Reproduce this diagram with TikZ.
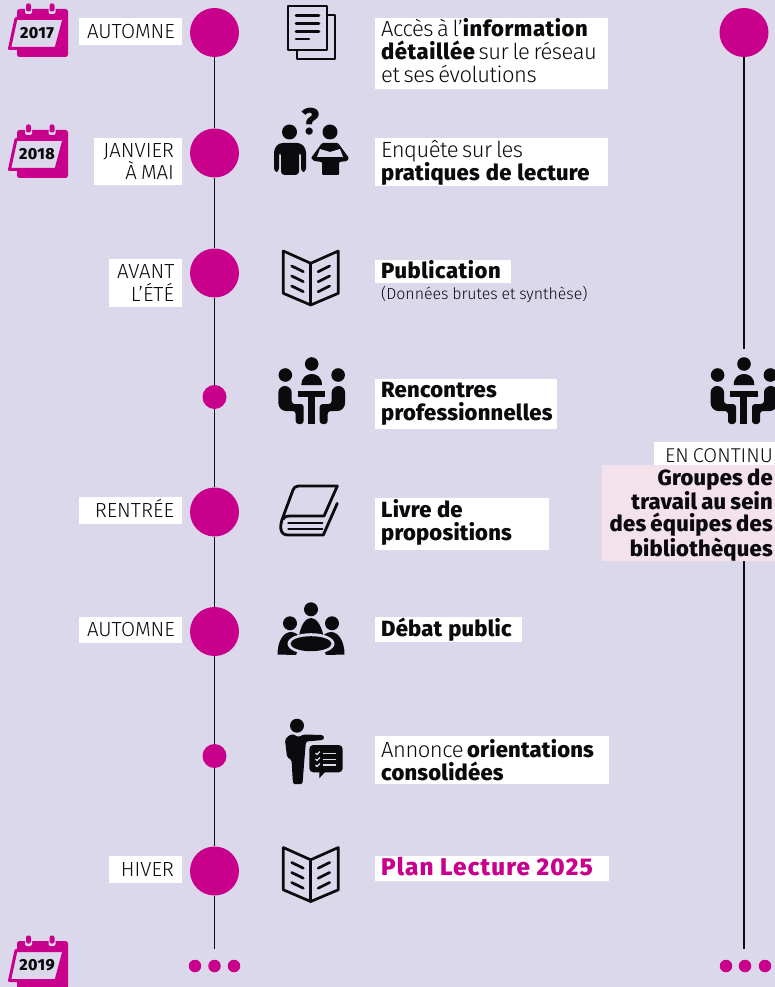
\documentclass[tikz,border=0pt]{standalone}
\usepackage{fontspec}
\setmainfont{Fira Sans Light}[LetterSpace=-2.2]
\newfontfamily\dt{Fira Sans Light}
\newfontfamily\hv{Fira Sans ExtraBold}[LetterSpace=1]
\newfontfamily\hvw{Fira Sans ExtraBold}[LetterSpace=2.5]
\newfontfamily\hvx{Fira Sans ExtraBold}[LetterSpace=5]
\definecolor{bgc}{HTML}{DBD8EC}
\definecolor{mag}{HTML}{C8008C}
\definecolor{ink}{HTML}{0B0B0D}
\definecolor{rosebox}{HTML}{F3E1EC}
\tikzset{
  tl/.style={draw=ink,line width=1.5pt},
  bigdot/.style={circle,fill=mag,minimum size=49pt,inner sep=0pt},
  smalldot/.style={circle,fill=mag,minimum size=24pt,inner sep=0pt},
  tinydot/.style={circle,fill=mag,minimum size=12.5pt,inner sep=0pt},
  gap/.style={execute at begin node={\spaceskip=#1pt\relax}},
  datebox/.style={fill=white,inner ysep=0pt,inner xsep=8pt,align=right,text=ink,font=\dt\fontsize{20.4}{22.5}\selectfont,gap=4},
  txtbox/.style={fill=white,inner ysep=0pt,inner xsep=6pt,align=left,text=ink,anchor=north west,font=\fontsize{22}{22.8}\selectfont,gap=3.6},
  ic/.style={line width=2.7pt,draw=ink,line join=round,line cap=round},
  pics/calendar/.style={code={
    \fill[mag,rounded corners=2.5pt] (17,9) rectangle (68,57);
    \fill[bgc,rounded corners=2pt] (25,3) rectangle (32,14);
    \fill[bgc,rounded corners=2pt] (48.5,3) rectangle (55.5,14);
    \fill[mag,rounded corners=2pt] (26,3.5) rectangle (31,11.5);
    \fill[mag,rounded corners=2pt] (49.5,3.5) rectangle (54.5,11.5);
    \draw[mag,line width=3pt,fill=bgc,line join=round] (16,18.5) -- (64,18.5) -- (56,48.5) -- (9.5,48.5) -- cycle;
    \draw[bgc,line width=.7pt] (9,51) -- (17,54);
    \node[inner sep=0pt,text=ink,font=\hvw\fontsize{16}{16}\selectfont] at (37,33.5) {#1};
  }},
  pics/openbook/.style={code={
    \draw[ic] (-27.4,-27) -- (0,-14.7) -- (27.6,-27) -- (27.6,15.3) -- (0,27) -- (-27.4,15.3) -- cycle;
    \draw[ic] (0,-14.7) -- (0,27);
    \foreach \yy in {-12,-2,8}{
      \draw[ic] (-19,\yy) -- (-7.4,\yy+5.7);
      \draw[ic] (7.4,\yy+5.7) -- (19,\yy);
    }
  }},
  pics/meeting/.style={code={
    \fill[ink] (0,0) circle (6.8);
    \fill[ink] (-26.4,11) circle (6.8);
    \fill[ink] (26.4,11) circle (6.8);
    \fill[ink] (-10.3,21) .. controls (-10.3,13) and (-5,10) .. (0,10) .. controls (5,10) and (10.3,13) .. (10.3,21) -- cycle;
    \fill[ink] (-14,26.7) rectangle (13.5,33.3);
    \fill[ink] (-3.7,30) rectangle (3.3,60);
    \foreach \sg in {-1,1}{
      \fill[ink,rounded corners=3pt,xscale=\sg] (-33.4,25) -- (-27,21) -- (-20,25) -- (-20,40) -- (-8,40) -- (-8,60) -- (-16,60) -- (-16,47) -- (-29,47) -- (-33.4,42) -- cycle;
    }
  }},
}
\newcommand{\ph}{\vphantom{Éy}}
\newcommand{\dn}[1]{\rule[-#1pt]{0pt}{1pt}}
\begin{document}
\begin{tikzpicture}[x=1pt,y=-1pt]
\useasboundingbox (0,0) rectangle (775,987);
\fill[bgc] (0,0) rectangle (775,987);

% timeline nodes
\node[bigdot] (c1) at (214.5,32.5) {};
\node[bigdot] (c2) at (214.5,153) {};
\node[bigdot] (c3) at (214.5,273) {};
\node[smalldot] (c4) at (214.5,397) {};
\node[bigdot] (c5) at (214.5,512) {};
\node[bigdot] (c6) at (214.5,631.5) {};
\node[smalldot] (c7) at (214.5,756) {};
\node[bigdot] (c8) at (214.5,871) {};
\coordinate (lend) at (214.5,949);
\node[tinydot] (d1) at (195,966) {};
\node[tinydot] (d2) at (214.5,966) {};
\node[tinydot] (d3) at (234,966) {};
\draw[tl] (c1) -- (c2);
\draw[tl] (c2) -- (c3);
\draw[tl] (c3) -- (c4);
\draw[tl] (c4) -- (c5);
\draw[tl] (c5) -- (c6);
\draw[tl] (c6) -- (c7);
\draw[tl] (c7) -- (c8);
\draw[tl] (c8) -- (lend);

% calendars
\pic at (0,0) {calendar=2017};
\pic at (0,121) {calendar=2018};
\pic at (0,932) {calendar=2019};

% date labels
\node[datebox,minimum width=103pt,text width=87pt,minimum height=27pt] (t1) at (130.5,31.5) {\ph AUTOMNE};
\node[datebox,minimum width=88pt,text width=72pt,minimum height=47pt] (t2) at (138,161.5) {JANVIER\\À MAI};
\node[datebox,minimum width=73pt,text width=57pt,minimum height=48pt] (t3) at (145.5,283) {AVANT\\L’ÉTÉ};
\node[datebox,minimum width=103pt,text width=87pt,minimum height=27pt] (t5) at (130.5,510.5) {\ph RENTRÉE};
\node[datebox,minimum width=103pt,text width=87pt,minimum height=26pt] (t6) at (130.5,630) {\ph AUTOMNE};
\node[datebox,minimum width=73pt,text width=57pt,minimum height=27pt] (t8) at (145.5,869.5) {\ph HIVER};

% text boxes
\node[txtbox,minimum height=71pt,text width=221pt] (b1) at (375,18) {\mbox{Accès à l’{\hvw information}}\\\mbox{{\hvw détaillée} sur le réseau}\\et ses évolutions\dn{6}};
\node[txtbox,minimum height=48pt,text width=221pt] (b2) at (375,138) {\rule{0pt}{19pt}Enquête sur les\\{\hv\spaceskip=6pt pratiques de lecture}};
\node[txtbox,minimum height=23pt,text width=124pt] (b3) at (375,260) {\hvw Publication\dn{4}};
\node[anchor=west,inner sep=0pt,text=ink,font=\dt\fontsize{15.9}{16}\selectfont,gap=3.8] (b3s) at (381,294) {(Données brutes et synthèse)};
\node[txtbox,minimum height=50pt,text width=170pt] (b4) at (375,379) {\hv Rencontres\\professionnelles};
\node[txtbox,minimum height=52pt,text width=162pt,gap=5.5] (b5) at (375,498) {\hv Livre de\\propositions\dn{9}};
\node[txtbox,minimum height=25pt,text width=135pt,gap=6] (b6) at (375,617) {\hv Débat public};
\node[txtbox,minimum height=48pt,text width=222pt] (b7) at (375,736) {Annonce {\hv orientations}\\{\hv consolidées}};
\node[txtbox,minimum height=25pt,text width=222pt,text=mag,font=\hvx\fontsize{24.2}{25}\selectfont,gap=6.5] (b8) at (375,856) {Plan Lecture 2025\dn{5}};

% icons: document
\draw[ic,fill=bgc] (297,15) rectangle (335,59);
\draw[ic,fill=bgc] (288,6) rectangle (327,50);
\draw[ic] (296,15.7) -- (319,15.7) (296,23.3) -- (319,23.3) (296,31.3) -- (319,31.3) (296,39) -- (309,39);

% icons: two people and a question
\fill[ink] (289.5,132) circle (7.5);
\fill[ink] (330,132) circle (7.5);
\fill[ink,rounded corners=3.5pt] (274,172) -- (274,149) -- (279,143) -- (301,143) -- (306,149) -- (306,172) -- (301,172) -- (301,152) -- (299,152) -- (299,175) -- (281,175) -- (281,152) -- (279,152) -- (279,172) -- cycle;
\fill[ink,rounded corners=1pt] (322,143) -- (338,143) -- (349,158) -- (347,161) -- (339,162) -- (339,175) -- (322,175) -- (322,162) -- (314,161) -- (311,158) -- cycle;
\fill[bgc] (320,149) -- (330,152) -- (340,149) -- (343,157) -- (317,157) -- cycle;
\node[inner sep=0pt,text=ink,font=\hv\fontsize{37}{38}\selectfont] (qm) at (311,122) {?};

% icons: open books
\pic at (310.7,278) {openbook};
\pic at (310.7,874.5) {openbook};

% icons: meeting tables
\pic at (311.7,364) {meeting};
\pic at (744,364) {meeting};

% icon: closed book
\draw[ic,line width=2.8pt] (337.3,486) -- (298.3,486) .. controls (295,486) and (294,488) .. (293,490) -- (283,517) .. controls (279,527) and (280,535) .. (288,535) -- (323.3,535) -- (337.3,503.3);
\draw[ic,line width=2.8pt] (337.3,486) -- (324,516) -- (290,516) .. controls (286,516) and (284,517) .. (283,519);
\draw[ic,line width=2.2pt] (288.3,522.7) -- (322.3,522.7) (288.3,529) -- (322.3,529);

% icon: public debate
\fill[ink] (311,609.3) circle (7);
\fill[ink] (290,623.3) circle (7);
\fill[ink] (332,623.3) circle (7);
\fill[ink] (277.5,654.5) .. controls (277.5,642) and (283,632) .. (291,632) .. controls (296,632) and (300,636) .. (302,640) -- (296,655) -- cycle;
\fill[ink] (344.5,654.5) .. controls (344.5,642) and (339,632) .. (331,632) .. controls (326,632) and (322,636) .. (320,640) -- (326,655) -- cycle;
\fill[ink] (299,636) .. controls (301,624) and (306,618) .. (311,618) .. controls (316,618) and (321,624) .. (323.5,636) -- cycle;
\fill[bgc] (311,643.7) ellipse (23.5 and 10.5);
\fill[ink] (311,643.7) ellipse (20.5 and 7.5);

% icon: presenter
\fill[ink] (297,725.7) circle (7);
\fill[ink,rounded corners=1.5pt] (285,740) -- (288,736) -- (293,734) -- (298,737) -- (304,734.5) -- (323,735) -- (324.5,737.5) -- (323,740) -- (306,741.5) -- (305,752) -- (302.5,784) -- (293,784) -- (291.5,760) -- (287,757) -- cycle;
\fill[ink,rounded corners=4pt] (309.3,745) rectangle (342.7,772.3);
\fill[ink] (319.3,771) -- (319.3,778.3) -- (326,771) -- cycle;
\draw[bgc,line width=1.4pt] (323.3,753.3) -- (336,753.3) (323.3,759.3) -- (336,759.3) (323.3,765) -- (336,765);
\draw[bgc,line width=1.1pt] (315.5,753) -- (317,754.5) -- (320,751.5) (315.5,759) -- (317,760.5) -- (320,757.5) (315.5,765) -- (317,766.5) -- (320,763.5);

% right column
\node[bigdot] (r1) at (744,32.5) {};
\coordinate (r1e) at (744,349);
\draw[tl] (r1) -- (r1e);
\node[fill=rosebox,anchor=north east,minimum width=173pt,minimum height=96pt,inner ysep=0pt,inner xsep=2pt,text width=169pt,align=right,text=ink,font=\hv\fontsize{22}{22.4}\selectfont,gap=4.2] (rb) at (775,465) {\rule{0pt}{20pt}Groupes de\\travail au sein\\\mbox{des équipes des}\\bibliothèques};
\node[fill=white,anchor=north east,minimum width=121pt,minimum height=23pt,inner ysep=0pt,inner xsep=2pt,text width=117pt,align=right,text=ink,font=\dt\fontsize{20}{22}\selectfont,gap=4] (rt) at (775,442) {\rule{0pt}{18pt}EN CONTINU};
\coordinate (r2e) at (744,949);
\draw[tl] (rb.south -| r2e) -- (r2e);
\node[tinydot] (e1) at (726,966) {};
\node[tinydot] (e2) at (745,966) {};
\node[tinydot] (e3) at (765,966) {};
\end{tikzpicture}
\end{document}
